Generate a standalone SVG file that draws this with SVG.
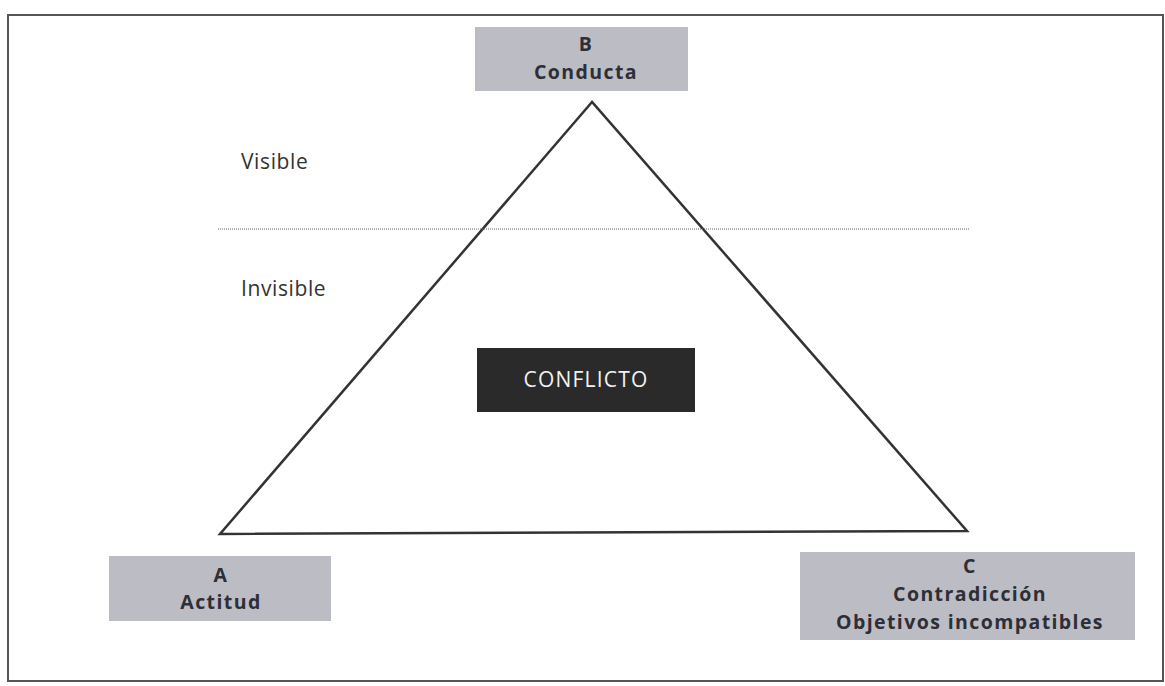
<svg xmlns="http://www.w3.org/2000/svg" width="1165" height="686" viewBox="0 0 1165 686">
<style>
.box{fill:#bcbcc4;}
.lbl{font-family:"Open Sans","Noto Sans",sans-serif;font-weight:bold;font-size:19.5px;letter-spacing:1.4px;fill:#2e2e36;text-anchor:middle;}
.zone{font-family:"Open Sans","Noto Sans",sans-serif;font-size:21px;letter-spacing:0.6px;fill:#333;}
</style>
<rect width="1165" height="686" fill="#ffffff"/>
<rect x="8" y="15" width="1155" height="666" fill="none" stroke="#555" stroke-width="2"/>
<g id="connectors">
<polygon points="592,102 220,534 967,531" fill="none" stroke="#333" stroke-width="2.5" stroke-linejoin="miter"/>
<line x1="218" y1="229" x2="970" y2="229" stroke="#666" stroke-width="1" stroke-dasharray="1,1"/>
</g>
<g id="zones">
<text class="zone" x="241" y="169">Visible</text>
<text class="zone" x="241" y="296">Invisible</text>
</g>
<g id="nodeB">
<rect class="box" x="475" y="27" width="213" height="64"/>
<text class="lbl" x="586" y="51">B</text>
<text class="lbl" x="586" y="79">Conducta</text>
</g>
<g id="nodeA">
<rect class="box" x="109" y="556" width="222" height="65"/>
<text class="lbl" x="221" y="582">A</text>
<text class="lbl" x="221" y="609">Actitud</text>
</g>
<g id="nodeC">
<rect class="box" x="800" y="552" width="335" height="88"/>
<text class="lbl" x="970" y="573">C</text>
<text class="lbl" x="970" y="601">Contradicción</text>
<text class="lbl" x="970" y="629">Objetivos incompatibles</text>
</g>
<g id="conflicto">
<rect x="477" y="348" width="218" height="64" fill="#2a2a2a"/>
<text x="586" y="387" font-family="'Open Sans','Noto Sans',sans-serif" font-size="21" letter-spacing="1.2" fill="#f2f2f2" text-anchor="middle">CONFLICTO</text>
</g>
</svg>
